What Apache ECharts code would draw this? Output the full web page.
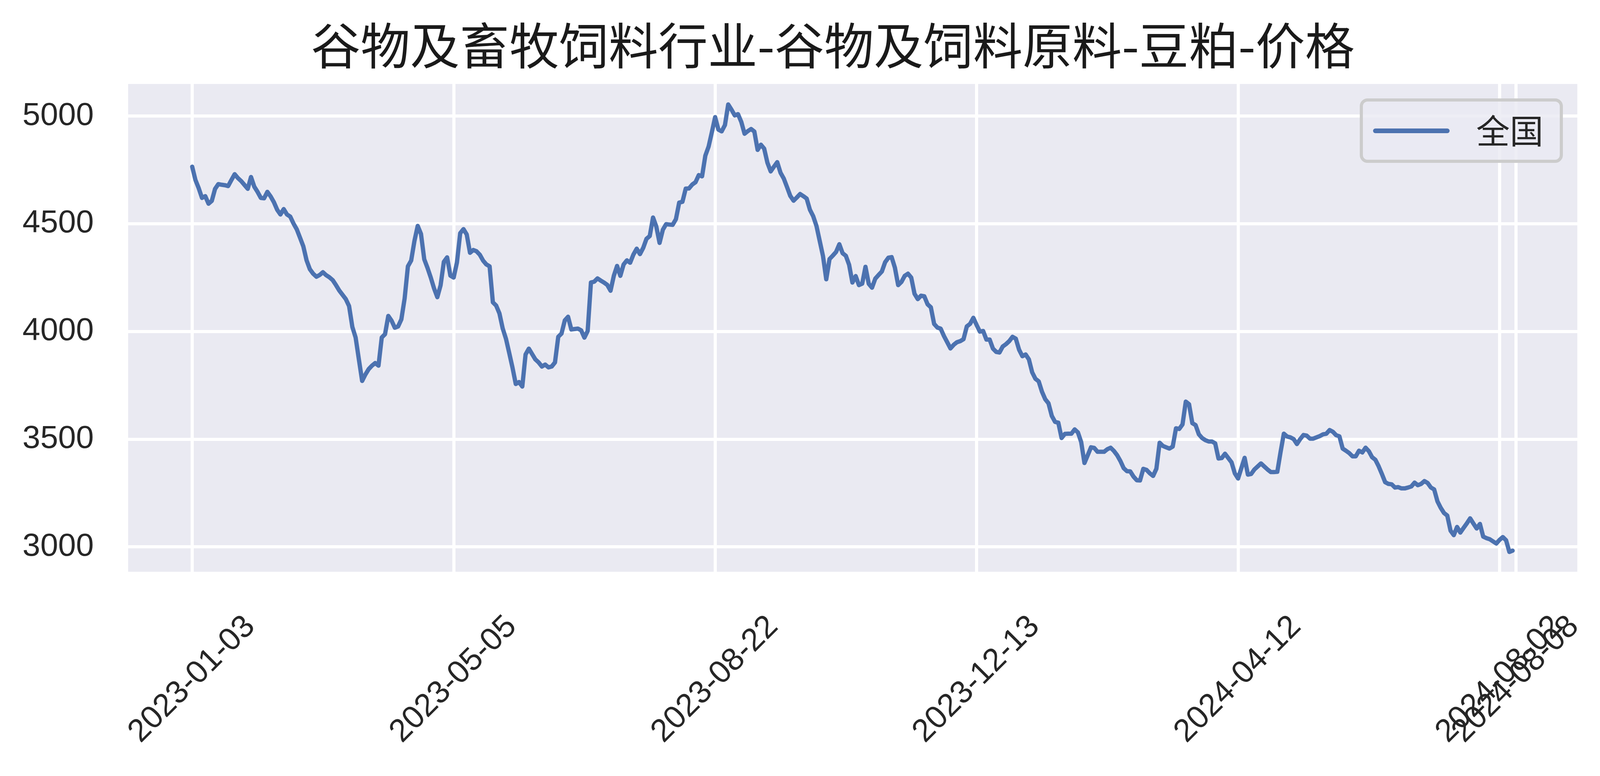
<!DOCTYPE html>
<html>
<head>
<meta charset="utf-8">
<script src="https://cdn.jsdelivr.net/npm/echarts@6/dist/echarts.min.js"></script>
<style>
  html, body { margin: 0; padding: 0; background: #ffffff; }
  #main { width: 4131px; height: 1987px; }
</style>
</head>
<body>
<div id="main"></div>
<script>
// ---- data ----
const chartTitle = '谷物及畜牧饲料行业-谷物及饲料原料-豆粕-价格';
const seriesName = '全国';

// x positions (trading-day index) that carry a tick label, and their labels
const tickIndex = [0, 80, 160, 240, 320, 400, 405];
const tickLabels = ['2023-01-03', '2023-05-05', '2023-08-22', '2023-12-13', '2024-04-12', '2024-08-02', '2024-08-08'];

// y tick values
const yTicks = [3000, 3500, 4000, 4500, 5000];

// price per trading day (index 0 = 2023-01-03, index 405 = 2024-08-08)
const priceNational = [
  4765, 4703, 4665, 4620, 4628, 4593, 4606, 4662, 4684, 4681,
  4679, 4675, 4703, 4730, 4712, 4698, 4680, 4662, 4717, 4672,
  4648, 4620, 4618, 4648, 4627, 4600, 4565, 4543, 4568, 4543,
  4533, 4501, 4474, 4435, 4395, 4330, 4289, 4268, 4254, 4262,
  4275, 4261, 4251, 4238, 4215, 4190, 4170, 4150, 4118, 4021,
  3972, 3870, 3770, 3800, 3825, 3841, 3853, 3841, 3972, 3987,
  4072, 4050, 4017, 4023, 4056, 4153, 4302, 4329, 4420, 4490,
  4453, 4335, 4295, 4250, 4200, 4159, 4214, 4323, 4344, 4259,
  4250, 4320, 4456, 4475, 4450, 4365, 4378, 4372, 4356, 4329,
  4311, 4302, 4135, 4120, 4084, 4014, 3966, 3900, 3832, 3756,
  3765, 3744, 3893, 3920, 3895, 3870, 3856, 3837, 3846, 3833,
  3837, 3856, 3975, 3990, 4051, 4068, 4009, 4011, 4013, 4005,
  3971, 4002, 4227, 4231, 4246, 4236, 4227, 4216, 4189, 4258,
  4304, 4258, 4311, 4330, 4319, 4357, 4384, 4359, 4388, 4430,
  4443, 4529, 4487, 4411, 4472, 4498, 4496, 4495, 4521, 4598,
  4602, 4663, 4664, 4682, 4693, 4726, 4720, 4816, 4858, 4925,
  4995, 4937, 4929, 4958, 5054, 5030, 5003, 5009, 4973, 4918,
  4930, 4940, 4928, 4843, 4867, 4849, 4783, 4743, 4765, 4786,
  4737, 4710, 4670, 4629, 4607, 4622, 4638, 4628, 4617, 4565,
  4535, 4490, 4420, 4350, 4242, 4336, 4352, 4369, 4405, 4363,
  4351, 4309, 4227, 4257, 4215, 4222, 4300, 4221, 4203, 4245,
  4262, 4278, 4321, 4342, 4345, 4296, 4215, 4230, 4258, 4268,
  4250, 4175, 4150, 4166, 4163, 4126, 4112, 4035, 4018, 4013,
  3979, 3950, 3921, 3938, 3950, 3955, 3964, 4023, 4035, 4063,
  4030, 3999, 4002, 3962, 3962, 3920, 3905, 3902, 3930, 3941,
  3955, 3975, 3966, 3915, 3885, 3893, 3870, 3810, 3780, 3768,
  3720, 3685, 3666, 3608, 3580, 3576, 3505, 3524, 3525, 3525,
  3545, 3531, 3486, 3389, 3425, 3462, 3459, 3441, 3441, 3441,
  3453, 3460, 3445, 3425, 3398, 3365, 3351, 3350, 3326, 3309,
  3308, 3362, 3357, 3341, 3329, 3362, 3483, 3468, 3462, 3456,
  3465, 3550, 3547, 3568, 3674, 3662, 3574, 3565, 3522, 3505,
  3495, 3489, 3489, 3480, 3410, 3412, 3432, 3412, 3392, 3341,
  3317, 3365, 3413, 3335, 3338, 3359, 3373, 3387, 3373, 3359,
  3347, 3347, 3348, 3440, 3525, 3512, 3508, 3500, 3477, 3500,
  3519, 3516, 3502, 3502, 3508, 3514, 3522, 3525, 3542, 3534,
  3518, 3513, 3456, 3446, 3435, 3420, 3420, 3446, 3438, 3460,
  3444, 3416, 3404, 3374, 3338, 3300, 3292, 3290, 3275, 3277,
  3271, 3271, 3275, 3280, 3298, 3286, 3292, 3305, 3296, 3275,
  3266, 3211, 3181, 3157, 3145, 3075, 3054, 3092, 3066, 3088,
  3109, 3132, 3108, 3085, 3106, 3047, 3040, 3035, 3025, 3015,
  3032, 3045, 3030, 2976, 2982, null
];

// ---- chart ----
const textColor = '#262626';
const lineColor = '#4C72B0';
const labelFont = "'Liberation Sans', Arial, sans-serif";
const cjkFont = "'Noto Sans CJK SC', sans-serif";
// legend swatch: a 196 x 12 bar with round ends (drawn like a thick line)
const legendLineIcon = 'path://M6,0 H190 A6,6 0 0 1 190,12 H6 A6,6 0 0 1 6,0 Z';

// the last tick (2024-08-08) sits on its own axis so that ECharts does not
// drop one of the two overlapping end labels
const mainTicks = tickIndex.slice(0, tickIndex.length - 1);
const endTicks = tickIndex.slice(tickIndex.length - 1);

function tickFormatter(v) {
  const k = tickIndex.indexOf(Math.round(v));
  return k >= 0 ? tickLabels[k] : '';
}

function makeXAxis(ticks) {
  return {
    type: 'value',
    position: 'bottom',
    offset: 0,
    min: -19.6,
    max: 423.8,
    axisLine: { show: false },
    axisTick: { show: false, customValues: ticks },
    axisLabel: {
      customValues: ticks,
      formatter: tickFormatter,
      rotate: 45,
      align: 'center',
      verticalAlign: 'middle',
      margin: 276,
      hideOverlap: false,
      showMinLabel: true,
      showMaxLabel: true,
      fontSize: 82,
      fontFamily: labelFont,
      color: textColor
    },
    splitLine: { show: true, lineStyle: { color: '#ffffff', width: 8 } }
  };
}

const chart = echarts.init(document.getElementById('main'), null, { renderer: 'canvas' });

const option = {
  animation: false,
  backgroundColor: '#ffffff',
  title: {
    text: chartTitle,
    left: 2132,
    top: 53,
    padding: 0,
    textAlign: 'center',
    textStyle: { fontSize: 127, fontWeight: 'normal', fontFamily: cjkFont, color: '#1a1a1a' }
  },
  legend: {
    show: true,
    left: 3485,
    top: 256,
    padding: [36, 46, 35, 30],
    itemWidth: 196,
    itemHeight: 12,
    icon: legendLineIcon,
    itemStyle: { color: lineColor, borderWidth: 0 },
    backgroundColor: 'rgba(234,234,242,0.8)',
    borderColor: '#cccccc',
    borderWidth: 8,
    borderRadius: 16,
    textStyle: { fontSize: 86, lineHeight: 86, fontFamily: cjkFont, color: textColor, padding: [0, 0, 0, 63] },
    data: [seriesName]
  },
  grid: {
    left: 328, top: 215, width: 3710, height: 1249,
    show: true, backgroundColor: '#EAEAF2', borderWidth: 0,
    containLabel: false, outerBoundsMode: 'none'
  },
  xAxis: [makeXAxis(mainTicks), makeXAxis(endTicks)],
  yAxis: {
    type: 'value',
    min: 2884,
    max: 5149,
    axisLine: { show: false },
    axisTick: { show: false, customValues: yTicks },
    axisLabel: {
      customValues: yTicks,
      formatter: function (v) { return String(v); },
      margin: 88,
      fontSize: 82,
      fontFamily: labelFont,
      color: textColor,
      hideOverlap: false,
      showMinLabel: true,
      showMaxLabel: true
    },
    splitLine: { show: true, lineStyle: { color: '#ffffff', width: 8 } }
  },
  series: [{
    type: 'line',
    name: seriesName,
    xAxisIndex: 0,
    yAxisIndex: 0,
    data: priceNational.map(function (v, i) { return [i, v]; }),
    symbol: 'none',
    showSymbol: false,
    connectNulls: false,
    lineStyle: { color: lineColor, width: 11, cap: 'round', join: 'round' },
    itemStyle: { color: lineColor },
    emphasis: { disabled: true }
  }]
};

chart.setOption(option);
</script>
</body>
</html>
